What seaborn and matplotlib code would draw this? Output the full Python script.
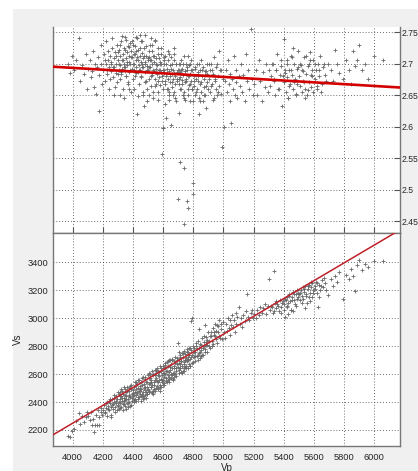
import numpy as np
import pandas as pd
import matplotlib
matplotlib.use("Agg")
import matplotlib.pyplot as plt
from matplotlib.patches import Rectangle
import seaborn as sns

# ---------------- data ----------------
vp = [3972, 3985, 3998, 4010, 4025, 4040, 4048, 4060, 4075, 4088, 4095,
      4105, 4112, 4120, 4128, 4135, 4140, 4148, 4155, 4160, 4165, 4172, 4178, 4185, 4190, 4195,
      4203, 4208, 4212, 4218, 4222, 4228, 4232, 4238, 4242, 4248, 4252, 4256, 4260, 4265, 4268, 4272, 4276, 4280, 4285, 4288, 4292, 4296,
      4302, 4305, 4308, 4311, 4314, 4317, 4320, 4323, 4326, 4329, 4332, 4335, 4338, 4341, 4344, 4347, 4350, 4353, 4356, 4359, 4362, 4365, 4368, 4371, 4374, 4377, 4380, 4383, 4386, 4389, 4392, 4396,
      4402, 4405, 4408, 4411, 4414, 4417, 4420, 4423, 4426, 4429, 4432, 4435, 4438, 4441, 4444, 4447, 4450, 4453, 4456, 4459, 4462, 4465, 4468, 4471, 4474, 4477, 4480, 4483, 4486, 4489, 4492, 4495, 4498,
      4502, 4505, 4508, 4511, 4514, 4517, 4520, 4523, 4526, 4529, 4532, 4535, 4538, 4541, 4544, 4547, 4550, 4553, 4556, 4559, 4562, 4565, 4568, 4571, 4574, 4577, 4580, 4583, 4586, 4589, 4592, 4595, 4598,
      4602, 4605, 4608, 4611, 4614, 4617, 4620, 4623, 4626, 4629, 4632, 4635, 4638, 4641, 4644, 4647, 4650, 4653, 4656, 4659, 4662, 4665, 4668, 4671, 4674, 4677, 4680, 4683, 4686, 4689, 4692, 4697,
      4702, 4705, 4708, 4711, 4712, 4715, 4718, 4721, 4724, 4727, 4730, 4733, 4736, 4739, 4740, 4742, 4745, 4748, 4751, 4754, 4757, 4760, 4763, 4766, 4768, 4771, 4774, 4777, 4780, 4783, 4786, 4790, 4793, 4797, 4798,
      4802, 4806, 4810, 4814, 4818, 4822, 4826, 4830, 4834, 4838, 4842, 4846, 4850, 4854, 4858, 4862, 4866, 4870, 4874, 4878, 4882, 4886, 4890, 4894, 4898,
      4903, 4908, 4913, 4918, 4923, 4928, 4933, 4938, 4943, 4948, 4953, 4958, 4963, 4968, 4973, 4978, 4983, 4989, 4995,
      5004, 5010, 5016, 5022, 5028, 5034, 5040, 5046, 5050, 5056, 5062, 5068, 5074, 5080, 5086, 5092, 5100,
      5108, 5116, 5124, 5132, 5140, 5148, 5155, 5162, 5170, 5181, 5188, 5195,
      5205, 5215, 5225, 5235, 5245, 5255, 5265, 5275, 5285, 5295,
      5304, 5310, 5318, 5326, 5336, 5342, 5350, 5358, 5366, 5374, 5382, 5390, 5398,
      5404, 5407, 5412, 5418, 5424, 5430, 5436, 5442, 5448, 5454, 5460, 5466, 5472, 5478, 5484, 5490, 5496,
      5502, 5507, 5512, 5518, 5524, 5530, 5536, 5542, 5548, 5554, 5560, 5566, 5572, 5578, 5584, 5590, 5596,
      5605, 5612, 5620, 5625, 5632, 5640, 5650, 5660, 5672, 5690,
      5710, 5725, 5737, 5750, 5765, 5789,
      5810, 5830, 5845, 5858, 5871, 5885,
      5901, 5918, 5940, 5960, 6000, 6060,
      # second reading of the dense part of the cloud
      4214, 4226, 4236, 4246, 4254, 4262, 4274, 4283, 4290, 4298,
      4303, 4309, 4315, 4321, 4327, 4333, 4339, 4345, 4351, 4357, 4363, 4369, 4375, 4381, 4387, 4393, 4399, 4313, 4343, 4373,
      4403, 4409, 4415, 4421, 4427, 4433, 4439, 4445, 4451, 4457, 4463, 4469, 4475, 4481, 4487, 4493, 4499, 4406, 4436, 4466, 4496, 4418, 4448, 4478,
      4503, 4509, 4515, 4521, 4527, 4533, 4539, 4545, 4551, 4557, 4563, 4569, 4575, 4581, 4587, 4593, 4599, 4506, 4536, 4566, 4596, 4518, 4548, 4578,
      4603, 4609, 4615, 4621, 4627, 4633, 4639, 4645, 4651, 4657, 4663, 4669, 4675, 4681, 4687, 4693, 4699, 4612, 4642, 4672, 4606, 4636,
      4703, 4709, 4715, 4721, 4727, 4733, 4739, 4745, 4751, 4757, 4763, 4769, 4775, 4781, 4787, 4793, 4799, 4706, 4736, 4766,
      4804, 4812, 4820, 4828, 4836, 4844, 4852, 4860, 4868, 4876, 4884, 4892, 4840, 4880,
      4905, 4915, 4925, 4935, 4945, 4955, 4965, 4985,
      5322, 5334, 5346, 5362, 5378, 5394,
      5409, 5421, 5433, 5445, 5457, 5469, 5481, 5493, 5427, 5463,
      5509, 5521, 5533, 5545, 5557, 5569, 5581, 5593, 5539, 5575,
      5608, 5618, 5636, 5648, 5665, 5680]

vs = [2158, 2150, 2190, 2205, 2265, 2318, 2240, 2300, 2256, 2290, 2325,
      2300, 2270, 2330, 2236, 2280, 2186, 2236, 2310, 2236, 2345, 2290, 2236, 2330, 2360, 2305,
      2340, 2380, 2320, 2395, 2355, 2300, 2372, 2410, 2340, 2390, 2365, 2310, 2420, 2385, 2350, 2430, 2400, 2365, 2440, 2395, 2345, 2420,
      2380, 2455, 2350, 2420, 2475, 2395, 2440, 2365, 2480, 2410, 2345, 2460, 2430, 2385, 2495, 2415, 2370, 2470, 2440, 2390, 2505, 2425, 2365, 2480, 2450, 2400, 2515, 2435, 2380, 2490, 2460, 2410,
      2440, 2510, 2415, 2475, 2540, 2450, 2495, 2405, 2530, 2465, 2420, 2555, 2480, 2435, 2515, 2460, 2410, 2545, 2490, 2440, 2570, 2475, 2425, 2530, 2500, 2450, 2580, 2485, 2430, 2545, 2510, 2460, 2590,
      2490, 2570, 2470, 2535, 2600, 2505, 2555, 2465, 2620, 2520, 2480, 2590, 2545, 2495, 2630, 2560, 2500, 2605, 2575, 2515, 2645, 2540, 2490, 2615, 2585, 2525, 2655, 2565, 2510, 2625, 2595, 2540, 2660,
      2560, 2640, 2535, 2600, 2665, 2570, 2620, 2545, 2685, 2590, 2555, 2660, 2615, 2565, 2700, 2630, 2575, 2675, 2645, 2590, 2710, 2610, 2565, 2690, 2655, 2600, 2720, 2640, 2585, 2700, 2670, 2825,
      2630, 2710, 2605, 2670, 2740, 2640, 2690, 2615, 2750, 2660, 2625, 2725, 2685, 2640, 2765, 2700, 2650, 2745, 2715, 2660, 2780, 2690, 2645, 2760, 2725, 2670, 2790, 2705, 2655, 2770, 2980, 3000, 2740, 2685, 2800,
      2720, 2790, 2690, 2760, 2820, 2730, 2780, 2700, 2840, 2750, 2715, 2815, 2775, 2730, 2855, 2790, 2740, 2830, 2800, 2755, 2865, 2810, 2760, 2845, 2900,
      2800, 2870, 2790, 2900, 2840, 2930, 2815, 2880, 2960, 2850, 2905, 2820, 2945, 2875, 2990, 2860, 2920, 2850, 2975,
      2900, 2860, 2960, 2910, 3000, 2930, 2985, 2880, 2950, 3020, 2935, 2990, 2900, 3040, 2960, 3010, 3082,
      2960, 3000, 2940, 3020, 2980, 3050, 3175, 3010, 2990, 3040, 3060, 3000,
      3030, 3000, 3060, 3020, 3080, 3040, 3070, 3100, 3030, 3085,
      3278, 3060, 3090, 3040, 3338, 3110, 3070, 3100, 3050, 3130, 3080, 3110, 3060,
      3100, 3006, 3130, 3080, 3150, 3110, 3170, 3120, 3060, 3150, 3190, 3130, 3100, 3170, 3140, 3200, 3150,
      3170, 3130, 3200, 3160, 3220, 3140, 3190, 3230, 3170, 3110, 3210, 3240, 3180, 3220, 3150, 3250, 3200,
      3230, 3260, 3180, 3078, 3240, 3200, 3270, 3220, 3250, 3167,
      3280, 3230, 3300, 3260, 3330, 3135,
      3310, 3280, 3350, 3300, 3197, 3380,
      3420, 3345, 3390, 3370, 3411, 3411,
      2330, 2400, 2350, 2420, 2290, 2380, 2450, 2330, 2410, 2370,
      2470, 2400, 2360, 2490, 2430, 2385, 2510, 2450, 2350, 2420, 2480, 2395, 2440, 2370, 2520, 2430, 2465, 2445, 2410, 2500,
      2485, 2450, 2420, 2545, 2470, 2435, 2560, 2490, 2445, 2520, 2455, 2580, 2430, 2505, 2470, 2540, 2485, 2400, 2500, 2440, 2455, 2525, 2480, 2565,
      2530, 2480, 2575, 2510, 2470, 2600, 2525, 2480, 2630, 2550, 2500, 2595, 2555, 2505, 2640, 2560, 2610, 2610, 2460, 2620, 2520, 2540, 2590, 2480,
      2610, 2580, 2640, 2550, 2620, 2690, 2580, 2650, 2600, 2700, 2560, 2640, 2610, 2680, 2625, 2715, 2650, 2680, 2540, 2580, 2520, 2700,
      2680, 2640, 2720, 2690, 2610, 2750, 2670, 2700, 2640, 2760, 2700, 2740, 2660, 2790, 2720, 2680, 2760, 2760, 2620, 2705,
      2760, 2730, 2800, 2740, 2790, 2760, 2810, 2740, 2870, 2780, 2830, 2810, 2920, 2950,
      2840, 2870, 2800, 2900, 2870, 2950, 2900, 2960,
      3080, 3050, 3120, 3090, 3040, 3120,
      3140, 3090, 3160, 3060, 3130, 3170, 3090, 3180, 3030, 3050,
      3180, 3110, 3210, 3160, 3230, 3150, 3260, 3180, 3070, 3120,
      3210, 3250, 3150, 3230, 3290, 3200]

rho = [2.700, 2.685, 2.712, 2.690, 2.705, 2.740, 2.672, 2.698, 2.684, 2.715, 2.660,
       2.692, 2.705, 2.678, 2.688, 2.720, 2.662, 2.700, 2.652, 2.695, 2.710, 2.625, 2.682, 2.700, 2.730, 2.668,
       2.690, 2.715, 2.672, 2.700, 2.735, 2.683, 2.706, 2.695, 2.660, 2.712, 2.688, 2.702, 2.725, 2.678, 2.694, 2.708, 2.650, 2.718, 2.685, 2.700, 2.670, 2.730,
       2.705, 2.690, 2.722, 2.675, 2.712, 2.698, 2.735, 2.684, 2.706, 2.692, 2.660, 2.715, 2.700, 2.725, 2.688, 2.742, 2.694, 2.708, 2.680, 2.718, 2.697, 2.728, 2.670, 2.703, 2.712, 2.686, 2.732, 2.700, 2.655, 2.720, 2.692, 2.710,
       2.700, 2.715, 2.690, 2.728, 2.680, 2.705, 2.742, 2.695, 2.620, 2.710, 2.686, 2.722, 2.698, 2.668, 2.712, 2.690, 2.736, 2.702, 2.678, 2.716, 2.694, 2.650, 2.708, 2.633, 2.724, 2.686, 2.700, 2.745, 2.672, 2.712, 2.696, 2.660, 2.705,
       2.690, 2.710, 2.675, 2.730, 2.695, 2.665, 2.705, 2.682, 2.720, 2.700, 2.645, 2.712, 2.688, 2.702, 2.676, 2.738, 2.692, 2.668, 2.708, 2.684, 2.698, 2.655, 2.715, 2.690, 2.678, 2.702, 2.666, 2.725, 2.686, 2.700, 2.672, 2.557, 2.690,
       2.597, 2.685, 2.700, 2.668, 2.712, 2.680, 2.613, 2.692, 2.660, 2.705, 2.676, 2.720, 2.688, 2.650, 2.698, 2.670, 2.710, 2.603, 2.684, 2.662, 2.700, 2.676, 2.690, 2.655, 2.715, 2.680, 2.668, 2.700, 2.640, 2.686, 2.672, 2.485,
       2.690, 2.668, 2.700, 2.678, 2.543, 2.686, 2.660, 2.705, 2.674, 2.692, 2.650, 2.682, 2.712, 2.534, 2.445, 2.670, 2.688, 2.642, 2.700, 2.676, 2.482, 2.690, 2.660, 2.680, 2.470, 2.698, 2.666, 2.684, 2.640, 2.706, 2.672, 2.690, 2.660, 2.510, 2.493,
       2.680, 2.665, 2.692, 2.650, 2.675, 2.700, 2.660, 2.686, 2.672, 2.645, 2.690, 2.668, 2.705, 2.655, 2.680, 2.640, 2.695, 2.662, 2.676, 2.650, 2.688, 2.630, 2.670, 2.684, 2.660,
       2.676, 2.690, 2.655, 2.700, 2.668, 2.684, 2.642, 2.710, 2.672, 2.660, 2.695, 2.650, 2.680, 2.720, 2.664, 2.690, 2.652, 2.567, 2.676,
       2.600, 2.672, 2.690, 2.655, 2.705, 2.668, 2.640, 2.684, 2.605, 2.676, 2.660, 2.712, 2.650, 2.690, 2.670, 2.645, 2.680,
       2.665, 2.700, 2.655, 2.682, 2.640, 2.715, 2.672, 2.690, 2.660, 2.755, 2.676, 2.650,
       2.668, 2.690, 2.650, 2.706, 2.672, 2.640, 2.686, 2.662, 2.700, 2.655,
       2.690, 2.665, 2.680, 2.700, 2.672, 2.650, 2.690, 2.715, 2.660, 2.682, 2.696, 2.632, 2.739,
       2.670, 2.690, 2.655, 2.705, 2.678, 2.645, 2.690, 2.668, 2.712, 2.682, 2.660, 2.700, 2.675, 2.650, 2.692, 2.668, 2.720,
       2.680, 2.665, 2.698, 2.655, 2.688, 2.672, 2.710, 2.660, 2.684, 2.650, 2.696, 2.670, 2.705, 2.662, 2.680, 2.690, 2.655,
       2.675, 2.690, 2.660, 2.700, 2.680, 2.712, 2.668, 2.695, 2.682, 2.700,
       2.690, 2.672, 2.722, 2.700, 2.685, 2.676,
       2.705, 2.690, 2.668, 2.720, 2.696, 2.705,
       2.729, 2.690, 2.700, 2.675, 2.712, 2.706,
       2.705, 2.690, 2.720, 2.676, 2.700, 2.740, 2.695, 2.662, 2.712, 2.684,
       2.718, 2.700, 2.730, 2.686, 2.744, 2.705, 2.694, 2.722, 2.680, 2.738, 2.702, 2.668, 2.726, 2.690, 2.710, 2.735, 2.675, 2.650, 2.645, 2.660,
       2.730, 2.700, 2.715, 2.685, 2.740, 2.705, 2.690, 2.725, 2.680, 2.700, 2.735, 2.695, 2.712, 2.670, 2.728, 2.690, 2.708, 2.660, 2.648, 2.655, 2.640, 2.720, 2.745, 2.702,
       2.720, 2.695, 2.705, 2.680, 2.730, 2.690, 2.712, 2.665, 2.700, 2.685, 2.725, 2.672, 2.708, 2.690, 2.715, 2.680, 2.597, 2.650, 2.655, 2.642, 2.660, 2.740, 2.735, 2.700,
       2.690, 2.705, 2.672, 2.700, 2.685, 2.660, 2.715, 2.680, 2.692, 2.670, 2.650, 2.705, 2.685, 2.645, 2.700, 2.675, 2.690, 2.635, 2.642, 2.725, 2.710, 2.655,
       2.675, 2.700, 2.660, 2.690, 2.668, 2.700, 2.655, 2.688, 2.672, 2.695, 2.650, 2.680, 2.700, 2.668, 2.690, 2.660, 2.640, 2.622, 2.645, 2.712,
       2.672, 2.695, 2.655, 2.680, 2.700, 2.640, 2.670, 2.690, 2.650, 2.682, 2.665, 2.700, 2.620, 2.688,
       2.700, 2.665, 2.690, 2.645, 2.675, 2.700, 2.655, 2.690,
       2.700, 2.675, 2.690, 2.660, 2.705, 2.680,
       2.685, 2.700, 2.665, 2.690, 2.710, 2.670, 2.652, 2.695, 2.645, 2.725,
       2.700, 2.690, 2.670, 2.712, 2.658, 2.700, 2.682, 2.705, 2.645, 2.718,
       2.700, 2.665, 2.690, 2.655, 2.700, 2.672]

# linear fits (intercept, slope)
rho_fit = [2.7505, -1.435e-5]
vs_fit = [-304.0, 0.638]

x_ticks = [4000, 4200, 4400, 4600, 4800, 5000, 5200, 5400, 5600, 5800, 6000]
rho_ticks = [2.45, 2.5, 2.55, 2.6, 2.65, 2.7, 2.75]
vs_ticks = [2200, 2400, 2600, 2800, 3000, 3200, 3400]

# ---------------- plotting ----------------
sns.set_style("white")
plt.rcParams["font.family"] = ["Liberation Sans", "DejaVu Sans"]

n = min(len(vp), len(vs), len(rho))
df = pd.DataFrame({"Vp": vp[:n], "Vs": vs[:n], "rho": rho[:n]})

W, H = 418, 471
fig = plt.figure(figsize=(W / 100, H / 100), dpi=100)
fig.patch.set_facecolor("#f0f0f0")
fig.patches.append(Rectangle((0, 0), 13 / W, 1, transform=fig.transFigure,
                             facecolor="white", edgecolor="none", zorder=-1))
fig.patches.append(Rectangle((0, 1 - 9 / H), 1, 9 / H, transform=fig.transFigure,
                             facecolor="white", edgecolor="none", zorder=-1))

left, right = 53 / W, 400 / W
ax1 = fig.add_axes([left, 1 - 233 / H, right - left, (233 - 27) / H])
ax2 = fig.add_axes([left, 1 - 446 / H, right - left, (446 - 233) / H])

xlim = (3870, 6170)
pt_color = "#6a6a6a"
grid_kw = dict(color="#3a3a3a", linestyle=(0, (1, 2.5)), linewidth=0.6)
fs = 6.7

xs_fit = np.array(xlim, dtype=float)
line1 = pd.DataFrame({"Vp": xs_fit, "rho": rho_fit[0] + rho_fit[1] * xs_fit})
line2 = pd.DataFrame({"Vp": xs_fit, "Vs": vs_fit[0] + vs_fit[1] * xs_fit})

# upper panel
sns.scatterplot(data=df, x="Vp", y="rho", ax=ax1, marker="+", s=9, color=pt_color,
                linewidth=0.6, legend=False, zorder=3)
sns.lineplot(data=line1, x="Vp", y="rho", ax=ax1, color="#d40000", linewidth=1.9,
             zorder=4, legend=False)
ax1.set_xlim(*xlim)
ax1.set_ylim(2.431, 2.758)
ax1.set_xticks(x_ticks)
ax1.set_yticks(rho_ticks)
ax1.set_yticklabels([f"{t:g}" for t in rho_ticks])
ax1.yaxis.tick_right()
ax1.tick_params(axis="x", labelbottom=False, bottom=True, direction="in", length=4,
                color="#555555", width=0.8)
ax1.tick_params(axis="y", left=False, right=True, labelright=True, labelleft=False,
                direction="in", length=4, pad=1.0, labelsize=6.2, color="#555555", width=0.8)
ax1.set_xlabel("")
ax1.set_ylabel("")
ax1.grid(True, **grid_kw)
ax1.spines["top"].set_visible(False)
for s in ["left", "right", "bottom"]:
    ax1.spines[s].set_color("#777777")
    ax1.spines[s].set_linewidth(1.0)

# lower panel
sns.scatterplot(data=df, x="Vp", y="Vs", ax=ax2, marker="+", s=9, color=pt_color,
                linewidth=0.6, legend=False, zorder=3)
sns.lineplot(data=line2, x="Vp", y="Vs", ax=ax2, color="#c0202a", linewidth=1.1,
             zorder=4, legend=False)
ax2.set_xlim(*xlim)
ax2.set_ylim(2085, 3610)
ax2.set_xticks(x_ticks)
ax2.set_yticks(vs_ticks)
ax2.tick_params(axis="both", direction="in", length=4, labelsize=fs, color="#555555", width=0.8)
ax2.tick_params(axis="x", pad=5)
ax2.tick_params(axis="y", pad=3.5)
ax2.set_xlabel("Vp", fontsize=fs + 0.3, labelpad=0.5)
ax2.set_ylabel("Vs", fontsize=fs + 0.3, labelpad=3)
ax2.grid(True, **grid_kw)
for s in ["left", "right", "bottom", "top"]:
    ax2.spines[s].set_color("#777777")
    ax2.spines[s].set_linewidth(1.0)

fig.savefig("out.png", dpi=100, facecolor=fig.get_facecolor())
